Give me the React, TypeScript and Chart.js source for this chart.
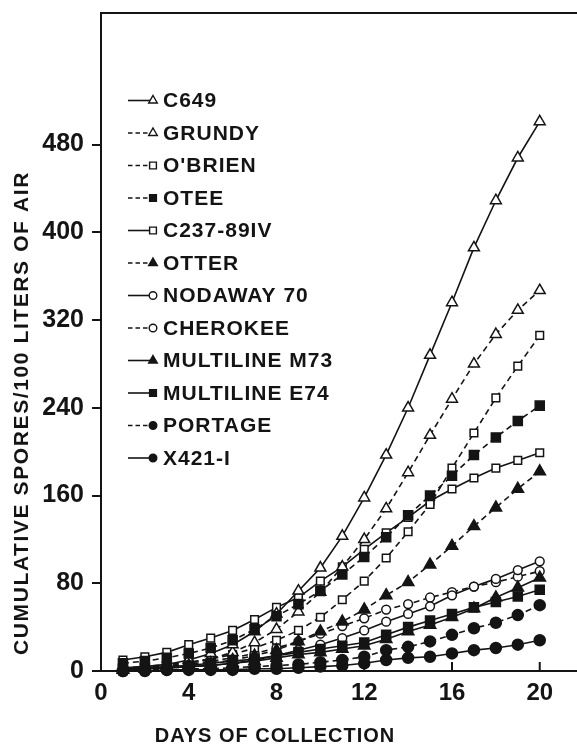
import { useEffect, useRef } from "react";
import { Chart, registerables } from "chart.js";

Chart.register(...registerables);

const days = [1, 2, 3, 4, 5, 6, 7, 8, 9, 10, 11, 12, 13, 14, 15, 16, 17, 18, 19, 20];

const c649 = [3, 4, 6, 10, 16, 24, 36, 52, 73, 94, 123, 158, 197, 240, 288, 336, 386, 429, 468, 501];
const grundy = [2, 3, 5, 7, 11, 17, 26, 38, 54, 72, 95, 120, 148, 181, 215, 248, 280, 307, 329, 347];
const obrien = [3, 4, 6, 8, 11, 15, 21, 28, 37, 49, 65, 82, 103, 127, 152, 185, 217, 249, 278, 306];
const otee = [7, 9, 12, 16, 21, 28, 38, 50, 61, 73, 88, 104, 122, 142, 160, 178, 197, 213, 228, 242];
const c237 = [10, 13, 17, 24, 30, 37, 47, 58, 67, 82, 95, 111, 126, 140, 155, 166, 176, 185, 192, 199];
const otter = [1, 2, 3, 5, 7, 10, 14, 19, 27, 36, 45, 56, 69, 81, 97, 114, 132, 149, 166, 182];
const nodaway = [1, 2, 3, 4, 5, 7, 10, 14, 19, 24, 30, 37, 45, 52, 59, 69, 77, 84, 92, 100];
const cherokee = [2, 3, 4, 6, 9, 12, 16, 21, 27, 34, 41, 48, 56, 61, 67, 72, 77, 81, 86, 91];
const m73 = [1, 2, 3, 4, 5, 7, 9, 12, 15, 17, 20, 23, 29, 36, 42, 49, 57, 67, 76, 85];
const e74 = [2, 3, 4, 5, 7, 9, 11, 14, 17, 20, 23, 26, 33, 40, 46, 52, 58, 63, 68, 74];
const portage = [0, 1, 1, 2, 2, 3, 4, 5, 6, 8, 10, 13, 19, 22, 27, 33, 39, 44, 51, 60];
const x421 = [0, 0, 1, 1, 1, 1, 2, 2, 3, 4, 5, 7, 10, 12, 13, 16, 19, 21, 24, 28];

const names = [
  "C649", "GRUNDY", "O'BRIEN", "OTEE", "C237-89IV", "OTTER",
  "NODAWAY 70", "CHEROKEE", "MULTILINE M73", "MULTILINE E74", "PORTAGE", "X421-I",
];
const values = [c649, grundy, obrien, otee, c237, otter, nodaway, cherokee, m73, e74, portage, x421];
const dashed = [false, true, true, true, false, true, false, true, false, false, true, false];
const shapes = ["triangle", "triangle", "rect", "rect", "rect", "triangle", "circle", "circle", "triangle", "rect", "circle", "circle"];
const filled = [false, false, false, true, false, true, false, false, true, true, true, true];

const xTicks = [0, 4, 8, 12, 16, 20];
const yTicks = [0, 80, 160, 240, 320, 400, 480];

const INK = "#141414";
const FONT = "'Liberation Sans', Arial, Helvetica, sans-serif";
const CANVAS_W = 586;

function markerRadius(shape: string, isFilled: boolean) {
  if (shape === "triangle") return isFilled ? 6.6 : 6.3;
  if (shape === "rect") return isFilled ? 6.4 : 5.4;
  return isFilled ? 5.5 : 4.4;
}

function drawMarker(ctx: CanvasRenderingContext2D, shape: string, isFilled: boolean, x: number, y: number, r: number) {
  ctx.beginPath();
  if (shape === "triangle") {
    const h = r * 1.5;
    const w = r * Math.sqrt(3) / 2;
    ctx.moveTo(x, y - r);
    ctx.lineTo(x + w, y - r + h);
    ctx.lineTo(x - w, y - r + h);
    ctx.closePath();
  } else if (shape === "rect") {
    const s = r * Math.SQRT1_2;
    ctx.rect(x - s, y - s, 2 * s, 2 * s);
  } else {
    ctx.arc(x, y, r, 0, Math.PI * 2);
  }
  ctx.fillStyle = isFilled ? INK : "#fff";
  ctx.fill();
  ctx.lineWidth = 1.4;
  ctx.strokeStyle = INK;
  ctx.setLineDash([]);
  ctx.stroke();
}

const decorPlugin = {
  id: "decor",
  beforeDraw(chart: any) {
    const ctx = chart.ctx;
    ctx.save();
    ctx.fillStyle = "#fff";
    ctx.fillRect(0, 0, chart.width, chart.height);
    ctx.restore();
  },
  afterDraw(chart: any) {
    const ctx: CanvasRenderingContext2D = chart.ctx;
    const area = chart.chartArea;
    const xs = chart.scales.x;
    ctx.save();
    ctx.strokeStyle = INK;
    ctx.lineWidth = 2;
    ctx.setLineDash([]);
    ctx.beginPath();
    ctx.moveTo(area.left, area.top);
    ctx.lineTo(chart.width, area.top);
    ctx.moveTo(area.right, area.bottom);
    ctx.lineTo(chart.width, area.bottom);
    ctx.stroke();
    xs.ticks.forEach((t: any) => {
      if (t.value === 0) return;
      const px = xs.getPixelForValue(t.value);
      ctx.beginPath();
      ctx.moveTo(px, area.bottom);
      ctx.lineTo(px, area.bottom - 9);
      ctx.stroke();
    });

    const rowTop = 100.5;
    const rowGap = 32.5;
    (ctx as any).letterSpacing = "1px";
    ctx.font = `bold 21px ${FONT}`;
    ctx.textBaseline = "middle";
    ctx.textAlign = "left";
    names.forEach((name, i) => {
      const y = rowTop + i * rowGap;
      ctx.strokeStyle = INK;
      ctx.lineWidth = 1.6;
      ctx.setLineDash(dashed[i] ? [4.5, 3] : []);
      ctx.beginPath();
      ctx.moveTo(128, y);
      ctx.lineTo(150, y);
      ctx.stroke();
      const r = shapes[i] === "triangle" ? 5 : shapes[i] === "rect" ? 4.8 : 3.8;
      drawMarker(ctx, shapes[i], filled[i], 153, y, r);
      ctx.fillStyle = INK;
      ctx.fillText(name, 163, y + 1);
    });

    ctx.textAlign = "center";
    ctx.textBaseline = "middle";
    ctx.font = `bold 20px ${FONT}`;
    (ctx as any).letterSpacing = "1px";
    ctx.fillText("DAYS OF COLLECTION", 275, 736);
    ctx.translate(22, 413);
    ctx.rotate(-Math.PI / 2);
    ctx.font = `bold 21px ${FONT}`;
    (ctx as any).letterSpacing = "1.6px";
    ctx.fillText("CUMULATIVE SPORES/100 LITERS OF AIR", 0, 0);
    ctx.restore();
  },
};

export default function App() {
  const ref = useRef<HTMLCanvasElement | null>(null);

  useEffect(() => {
    if (!ref.current) return;
    const datasets = names.map((name, i) => {
      const r = markerRadius(shapes[i], filled[i]);
      return {
        label: name,
        data: values[i].map((v, j) => ({ x: days[j], y: v })),
        order: filled[i] ? 0 : 1,
        borderColor: INK,
        borderWidth: 1.6,
        borderDash: dashed[i] ? [6, 4] : [],
        pointStyle: shapes[i],
        pointRadius: r,
        pointHoverRadius: r,
        pointBackgroundColor: filled[i] ? INK : "#fff",
        pointBorderColor: INK,
        pointBorderWidth: 1.5,
        tension: 0,
        fill: false,
        clip: false,
      };
    });

    const chart = new Chart(ref.current, {
      type: "line",
      data: { datasets },
      plugins: [decorPlugin],
      options: {
        responsive: false,
        animation: false,
        events: [],
        layout: { padding: { top: 13, left: 0, right: 0, bottom: 0 } },
        plugins: { legend: { display: false }, tooltip: { enabled: false }, title: { display: false } },
        scales: {
          x: {
            type: "linear",
            min: 0,
            max: 21.74,
            afterBuildTicks: (s: any) => {
              s.ticks = xTicks.map((v) => ({ value: v }));
            },
            afterFit: (s: any) => {
              s.height = 75;
              s.paddingLeft = 0;
              s.paddingRight = 0;
            },
            ticks: {
              color: INK,
              font: { family: FONT, size: 24, weight: "bold" },
              padding: 8,
              maxRotation: 0,
              callback: (v: any) => String(v),
            },
            grid: { drawOnChartArea: false, drawTicks: false },
            border: { display: true, color: INK, width: 2 },
          },
          y: {
            type: "linear",
            min: 0,
            max: 600,
            afterBuildTicks: (s: any) => {
              s.ticks = yTicks.map((v) => ({ value: v }));
            },
            afterFit: (s: any) => {
              s.width = 101;
              s.paddingTop = 0;
              s.paddingBottom = 0;
            },
            ticks: {
              color: INK,
              font: { family: FONT, size: 25, weight: "bold" },
              padding: 8,
              callback: (v: any) => String(v),
            },
            grid: { drawOnChartArea: false, drawTicks: true, tickLength: 9, color: INK, lineWidth: 2 },
            border: { display: true, color: INK, width: 2 },
          },
        },
      } as any,
    });
    return () => chart.destroy();
  }, []);

  return (
    <div style={{ position: "fixed", left: 0, top: 0, width: 577, height: 746, overflow: "hidden", background: "#fff" }}>
      <canvas ref={ref} width={CANVAS_W} height={746} style={{ width: CANVAS_W, height: 746, display: "block" }} />
    </div>
  );
}
